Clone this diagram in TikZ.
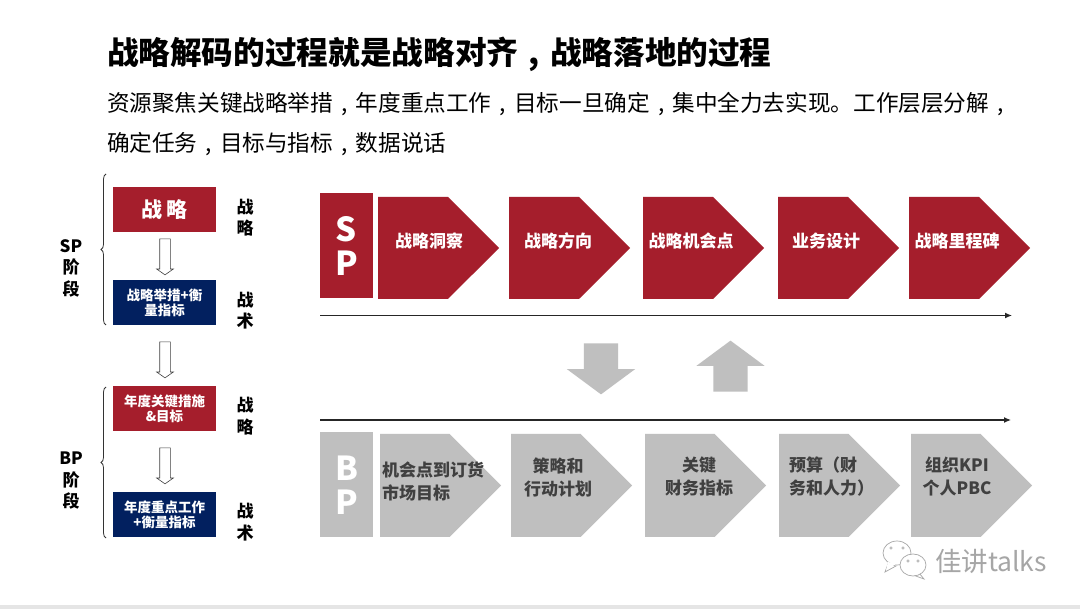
\documentclass[tikz,border=0pt]{standalone}
\usepackage{fontspec}
\setmainfont{Noto Sans CJK SC}
\usetikzlibrary{arrows.meta,shapes.arrows,shapes.symbols,decorations.pathreplacing}

\definecolor{spred}{HTML}{A51E2C}
\definecolor{spnavy}{HTML}{02205F}
\definecolor{bpgray}{HTML}{BFBFBF}
\definecolor{bptext}{HTML}{404040}
\newcommand{\midcomma}{\makebox[1em][c]{,}}

\begin{document}
\begin{tikzpicture}[
		x=1pt, y=-1pt,
		every node/.style={inner sep=0pt, outer sep=0pt, font=\bfseries},
		stagebox/.style={minimum width=103pt, minimum height=45pt, text=white, align=center, font=\bfseries\fontsize{13.5}{15}\selectfont},
		redbox/.style={stagebox, fill=spred},
		navybox/.style={stagebox, fill=spnavy},
		tag/.style={minimum width=53pt, minimum height=105pt, text=white, align=center, font=\bfseries\fontsize{33}{34}\selectfont},
		step red/.style={signal, signal to=east, signal pointer angle=90, minimum width=121pt, minimum height=102pt, fill=spred, anchor=west},
		step gray/.style={signal, signal to=east, signal pointer angle=90, minimum width=121pt, minimum height=103pt, fill=bpgray, anchor=west},
		step text/.style={text=white, font=\bfseries\fontsize{17}{17}\selectfont},
		gray text/.style={text=bptext, align=center, font=\bfseries\fontsize{17}{23}\selectfont},
		side/.style={align=center, font=\bfseries\fontsize{17}{21.5}\selectfont},
		open arrow/.style={single arrow, draw=black!75, fill=white, line width=0.6pt, rotate=-90, minimum height=36pt, inner ysep=5pt, single arrow head extend=3pt, single arrow tip angle=110},
		big arrow/.style={single arrow, fill=bpgray, minimum height=51pt, inner ysep=17pt, single arrow head extend=17pt, single arrow tip angle=107},
		timeline/.style={draw=black!85, line width=1.2pt, -{Latex[length=7pt,width=6pt]}},
		stagebrace/.style={draw=black!80, line width=0.8pt, decorate, decoration={brace, amplitude=5pt}}
		]
		\useasboundingbox (0,0) rectangle (1080,609);
		\fill[white] (0,0) rectangle (1080,609);
		\fill[black!10] (0,605) rectangle (1080,609);

		% heading
		\node[anchor=west, font=\bfseries\fontsize{31.65}{31.65}\selectfont] (title) at (107,54) {战略解码的过程就是战略对齐\midcomma 战略落地的过程};
		\node[anchor=west, font=\fontsize{22.62}{22.62}\selectfont\mdseries] (line1) at (107,104) {资源聚焦关键战略举措\midcomma 年度重点工作\midcomma 目标一旦确定\midcomma 集中全力去实现。工作层层分解\midcomma};
		\node[anchor=west, font=\fontsize{22.62}{22.62}\selectfont\mdseries] (line2) at (107,144) {确定任务\midcomma 目标与指标\midcomma 数据说话};

		% left column
		\node[redbox, font=\bfseries\fontsize{21}{21}\selectfont] (strategy) at (164.5,210) {战 略};
		\node[navybox] (action) at (164.5,302.5) {战略举措+衡\\量指标};
		\node[redbox] (yearkey) at (164.5,409) {年度关键措施\\\&目标};
		\node[navybox] (yearwork) at (164.5,515) {年度重点工作\\+衡量指标};
		\node[open arrow] (down1) at (165,255) {};
		\node[open arrow] (down2) at (165,358) {};
		\node[open arrow] (down3) at (165,464) {};

		\coordinate (sptop) at (106,174);
		\coordinate (spbot) at (106,325);
		\coordinate (bptop) at (106,387);
		\coordinate (bpbot) at (106,538);
		\draw[stagebrace] (spbot) -- (sptop);
		\draw[stagebrace] (bpbot) -- (bptop);
		\node[side] (spstage) at (71,268) {SP\\阶\\段};
		\node[side] (bpstage) at (71,481) {BP\\阶\\段};
		\node[side] (tag1) at (245,217.5) {战\\略};
		\node[side] (tag2) at (245,310.5) {战\\术};
		\node[side] (tag3) at (245,416) {战\\略};
		\node[side] (tag4) at (245,522) {战\\术};

		% SP row
		\node[tag, fill=spred] (sp) at (346.5,246) {S\\P};
		\foreach \i/\x/\tx/\lab in {1/378/429/战略洞察, 2/509/558/战略方向, 3/643/691/战略机会点, 4/778/826/业务设计, 5/909/957/战略里程碑} {
			\node[step red] (sp\i) at (\x,248) {};
			\node[step text] (splab\i) at (\tx,241) {\lab};
		}
		\coordinate (sp line a) at (320,315.5);
		\coordinate (sp line b) at (1012,315.5);
		\draw[timeline] (sp line a) -- (sp line b);

		% exchange arrows
		\node[big arrow, rotate=-90] (godown) at (601,362.5) {};
		\node[big arrow, rotate=90] (goup) at (730.5,372.5) {};

		% BP row
		\coordinate (bp line a) at (320,420);
		\coordinate (bp line b) at (1011,420);
		\draw[timeline] (bp line a) -- (bp line b);
		\node[tag, fill=bpgray] (bp) at (346.5,485) {B\\P};
		\foreach \i/\x in {1/380, 2/511, 3/645, 4/779, 5/911} {
			\node[step gray] (bp\i) at (\x,485.5) {};
		}
		\node[gray text, align=left, anchor=west] (bplab1) at (382,481.5) {机会点到订货\\市场目标};
		\node[gray text] (bplab2) at (558,477) {策略和\\行动计划};
		\node[gray text] (bplab3) at (699,477) {关键\\财务指标};
		\node[gray text, align=left, anchor=west] (bplab4) at (789,476.5) {预算（财\\务和人力）};
		\node[gray text] (bplab5) at (957,476.5) {组织KPI\\个人PBC};

		% watermark
		\draw[black!35, line width=0.7pt, fill=white] (888,564) -- (885,572) -- (896,566) -- cycle;
		\draw[black!35, line width=0.7pt, fill=white] (897,553) ellipse (14pt and 12pt);
		\fill[white] (888,562) -- (886,570) -- (896,564) -- cycle;
		\draw[black!35, line width=0.7pt, fill=white] (919,573) -- (924,579) -- (913,575) -- cycle;
		\draw[black!35, line width=0.7pt, fill=white] (913,565) ellipse (13pt and 11pt);
		\foreach \ex/\ey in {891/548, 903/548, 908/561, 918/561} {
			\draw[black!35, line width=0.5pt] (\ex,\ey) circle (1.3pt);
		}
		\node[anchor=west, text=black!35, font=\mdseries\fontsize{26.5}{26.5}\selectfont] (mark) at (935,561) {佳讲talks};
	\end{tikzpicture}
\end{document}
